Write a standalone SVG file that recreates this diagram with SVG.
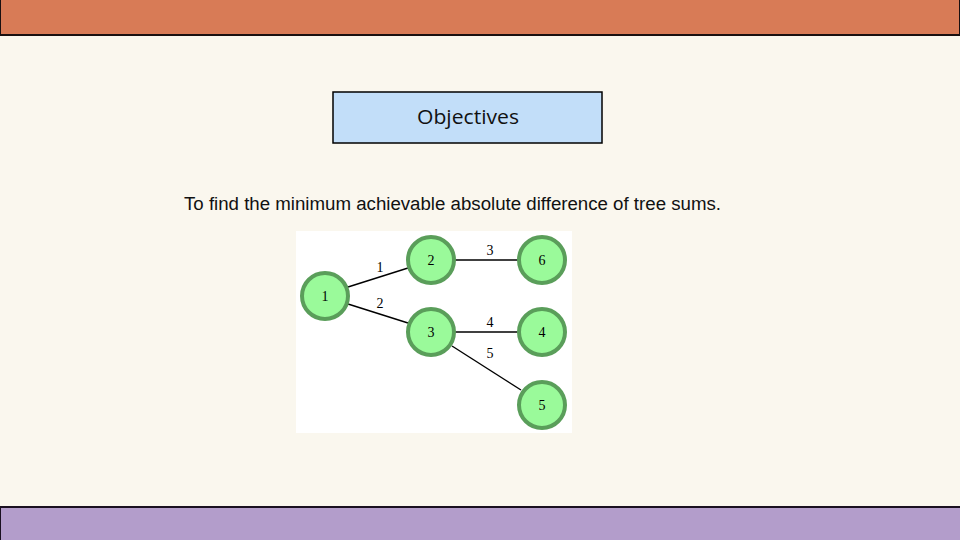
<svg xmlns="http://www.w3.org/2000/svg" width="960" height="540" viewBox="0 0 960 540">
  <style>
    .node circle { fill: #9afa9a; stroke: #5a9e5a; stroke-width: 4; }
    .node text { font-family: "Liberation Serif", serif; font-size: 14px; fill: #000; text-anchor: middle; }
    .edge { stroke: #000; stroke-width: 1.4; }
    .elabel { font-family: "Liberation Serif", serif; font-size: 14px; fill: #000; text-anchor: middle; }
  </style>
  <!-- page background -->
  <rect x="0" y="0" width="960" height="540" fill="#faf7ee"/>
  <!-- header and footer bands -->
  <rect x="0" y="-2" width="960" height="37" fill="#d87b56" stroke="#1a1010" stroke-width="2"/>
  <rect x="0" y="507" width="962" height="36" fill="#b39dcb" stroke="#1a1020" stroke-width="2"/>

  <!-- title box -->
  <g id="title">
    <rect x="333" y="92" width="269" height="51" fill="#c2def9" stroke="#000" stroke-width="1.5"/>
    <text x="468" y="124" font-family="'Open Sans', 'DejaVu Sans', sans-serif" font-size="20" fill="#111" text-anchor="middle" textLength="102" lengthAdjust="spacingAndGlyphs">Objectives</text>
  </g>

  <text x="184" y="210" font-family="'Liberation Sans', Arial, sans-serif" font-size="18" fill="#111" textLength="537" lengthAdjust="spacingAndGlyphs">To find the minimum achievable absolute difference of tree sums.</text>

  <!-- tree panel -->
  <rect x="296" y="231" width="276" height="202" fill="#ffffff"/>

  <g id="connectors">
    <line class="edge" x1="348" y1="287" x2="408" y2="268"/>
    <line class="edge" x1="348" y1="304" x2="408" y2="323"/>
    <line class="edge" x1="455" y1="260" x2="518" y2="260"/>
    <line class="edge" x1="455" y1="332" x2="518" y2="332"/>
    <line class="edge" x1="452" y1="346" x2="521" y2="390"/>
    <text class="elabel" x="380" y="272">1</text>
    <text class="elabel" x="380" y="308">2</text>
    <text class="elabel" x="490" y="255">3</text>
    <text class="elabel" x="490" y="327">4</text>
    <text class="elabel" x="490" y="358">5</text>
  </g>

  <g id="node1" class="node"><circle cx="325" cy="296" r="23"/><text x="325" y="301">1</text></g>
  <g id="node2" class="node"><circle cx="431" cy="260" r="23"/><text x="431" y="265">2</text></g>
  <g id="node6" class="node"><circle cx="542" cy="260" r="23"/><text x="542" y="265">6</text></g>
  <g id="node3" class="node"><circle cx="431" cy="332" r="23"/><text x="431" y="337">3</text></g>
  <g id="node4" class="node"><circle cx="542" cy="332" r="23"/><text x="542" y="337">4</text></g>
  <g id="node5" class="node"><circle cx="542" cy="405" r="23"/><text x="542" y="410">5</text></g>
</svg>
